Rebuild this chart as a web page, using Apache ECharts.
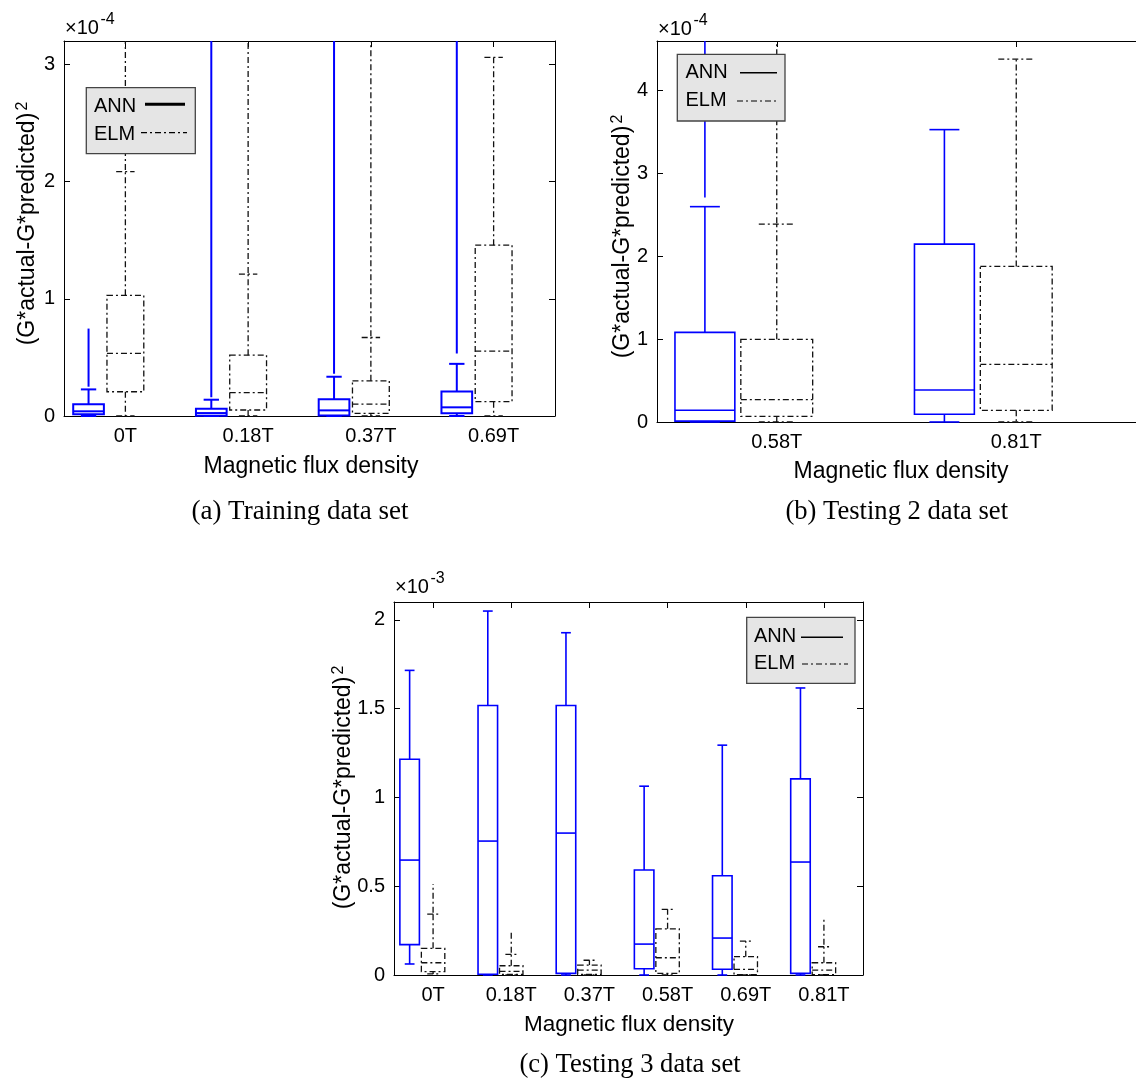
<!DOCTYPE html>
<html><head><meta charset="utf-8">
<script src="https://cdn.jsdelivr.net/npm/echarts@6/dist/echarts.min.js"></script>
<style>html,body{margin:0;padding:0;background:#fff}#c{width:1136px;height:1078px}</style>
</head><body><div id="c"></div>
<script>
// ---- DATA (values in units of the axis exponent) ----
// each row: [lowerWhisker, q1, median, q3, upperWhisker, outlierRunStart, outlierRunEnd]
const catsA = ['0T', '0.18T', '0.37T', '0.69T'];
const annA = [
  [0, 0.015, 0.04, 0.10, 0.227, 0.25, 0.746],
  [0, 0.003, 0.025, 0.062, 0.139, 0.16, 3.2],
  [0, 0.005, 0.048, 0.142, 0.335, 0.36, 3.2],
  [0, 0.023, 0.074, 0.21, 0.445, 0.533, 3.2]
];
const elmA = [
  [0, 0.207, 0.534, 1.03, 2.085, 2.1, 3.2],
  [0, 0.051, 0.2, 0.519, 1.21, 1.22, 3.2],
  [0, 0.023, 0.102, 0.30, 0.67, 0.68, 3.2],
  [0, 0.122, 0.553, 1.458, 3.06, null, null]
];
const catsB = ['0.58T', '0.81T'];
const annB = [
  [0, 0.01, 0.141, 1.082, 2.60, 2.71, 4.6],
  [0, 0.093, 0.386, 2.148, 3.53, null, null]
];
const elmB = [
  [0, 0.069, 0.27, 0.998, 2.39, 2.40, 4.6],
  [0, 0.141, 0.696, 1.878, 4.38, null, null]
];
const catsC = ['0T', '0.18T', '0.37T', '0.58T', '0.69T', '0.81T'];
const annC = [
  [0.062, 0.171, 0.647, 1.215, 1.715, null, null],
  [0, 0.004, 0.754, 1.517, 2.049, null, null],
  [0, 0.009, 0.799, 1.517, 1.927, null, null],
  [0, 0.035, 0.174, 0.591, 1.063, null, null],
  [0, 0.032, 0.208, 0.559, 1.294, null, null],
  [0, 0.009, 0.636, 1.104, 1.616, null, null]
];
const elmC = [
  [0.006, 0.019, 0.069, 0.150, 0.343, 0.35, 0.512],
  [0, 0.004, 0.02, 0.052, 0.116, 0.125, 0.244],
  [0, 0.003, 0.028, 0.056, 0.083, null, null],
  [0, 0.009, 0.097, 0.26, 0.37, null, null],
  [0, 0.002, 0.032, 0.103, 0.191, null, null],
  [0, 0.002, 0.028, 0.069, 0.159, 0.17, 0.328]
];
const yTicksA = [0, 1, 2, 3];
const yTicksB = [0, 1, 2, 3, 4];
const yTicksC = [0, 0.5, 1, 1.5, 2];
const seriesNames = ['ANN', 'ELM'];
const xTitle = 'Magnetic flux density';
const yTitle = '(G*actual-G*predicted)';
const captions = ['(a) Training data set', '(b) Testing 2 data set', '(c) Testing 3 data set'];
const exps = ['-4', '-4', '-3'];

// ---- LAYOUT ----
const FONT = '"Liberation Sans", Arial, Helvetica, sans-serif';
const SERIF = '"Liberation Serif", "Times New Roman", serif';
const BLUE = '#0000ff';
const DARK = '#111';
const DASH = [6, 3, 2, 3];

const panels = [
  {grid: {left: 64, top: 41, width: 491, height: 375}, cats: catsA, ann: annA, elm: elmA, ymax: 3.2, yticks: yTicksA, annLw: 2, rightAxis: true},
  {grid: {left: 657, top: 41, width: 488, height: 381}, cats: catsB, ann: annB, elm: elmB, ymax: 4.6, yticks: yTicksB, annLw: 1.6, rightAxis: false},
  {grid: {left: 394, top: 602, width: 469, height: 373}, cats: catsC, ann: annC, elm: elmC, ymax: 2.1, yticks: yTicksC, annLw: 1.6, rightAxis: true}
];

function makeRender(offset, width, style, ymax) {
  return function (params, api) {
    const x = api.value(0) + offset;
    const v = i => api.value(i);
    const lo = v(1), q1 = v(2), med = v(3), q3 = v(4), hi = v(5), oLo = v(6), oHi = v(7);
    const half = api.size([width, 0])[0] / 2;
    const cap = half / 2;
    const cx = api.coord([x, 0])[0];
    const Y = val => api.coord([x, val])[1];
    const ch = [];
    const line = (x1, y1, x2, y2) => ch.push({type: 'line', shape: {x1, y1, x2, y2}, style: Object.assign({}, style)});
    ch.push({type: 'rect', shape: {x: cx - half, y: Y(q3), width: 2 * half, height: Y(q1) - Y(q3)}, style: Object.assign({}, style, {fill: 'none'})});
    line(cx - half, Y(med), cx + half, Y(med));
    line(cx, Y(q3), cx, Y(hi));
    line(cx - cap, Y(hi), cx + cap, Y(hi));
    line(cx, Y(q1), cx, Y(lo));
    line(cx - cap, Y(lo), cx + cap, Y(lo));
    if (oLo != null && !isNaN(oLo) && oHi != null && !isNaN(oHi)) {
      line(cx, Y(oLo), cx, Y(Math.min(oHi, ymax)));
    }
    return {type: 'group', children: ch};
  };
}

const grids = [], xAxes = [], yAxes = [], series = [];
const axisLine = {show: true, onZero: false, lineStyle: {color: '#000', width: 1}};
panels.forEach((p, i) => {
  const n = p.cats.length;
  const pos = p.cats.map((c, k) => k + 1);
  grids.push(Object.assign({show: false}, p.grid));
  xAxes.push({gridIndex: i, type: 'value', position: 'bottom', min: 0.5, max: n + 0.5,
    axisLine, axisTick: {show: false}, splitLine: {show: false},
    axisLabel: {customValues: pos, formatter: val => p.cats[Math.round(val) - 1] || '', fontSize: 20, color: '#000', fontFamily: FONT, margin: 10}});
  xAxes.push({gridIndex: i, type: 'value', position: 'top', min: 0.5, max: n + 0.5,
    axisLine, axisTick: {show: true, inside: true, length: 6, customValues: pos, lineStyle: {color: '#000'}},
    axisLabel: {show: false}, splitLine: {show: false}});
  yAxes.push({gridIndex: i, type: 'value', position: 'left', min: 0, max: p.ymax,
    axisLine, axisTick: {show: true, inside: true, length: 6, customValues: p.yticks, lineStyle: {color: '#000'}},
    axisLabel: {customValues: p.yticks, formatter: val => String(val), fontSize: 20, color: '#000', fontFamily: FONT, margin: 9},
    splitLine: {show: false}});
  yAxes.push({gridIndex: i, type: 'value', position: 'right', min: 0, max: p.ymax, show: p.rightAxis,
    axisLine, axisTick: {show: true, inside: true, length: 6, customValues: p.yticks, lineStyle: {color: '#000'}},
    axisLabel: {show: false}, splitLine: {show: false}});
  const dims = ['x', 'lo', 'q1', 'med', 'q3', 'hi', 'olo', 'ohi'];
  const mk = arr => arr.map((d, k) => [k + 1].concat(d.map(z => z == null ? '-' : z)));
  series.push({type: 'custom', name: seriesNames[0], xAxisIndex: 2 * i + 1, yAxisIndex: 2 * i, dimensions: dims,
    encode: {x: 0, y: [1, 2, 3, 4, 5]}, data: mk(p.ann), silent: true,
    renderItem: makeRender(-0.30, 0.25, {stroke: BLUE, lineWidth: p.annLw}, p.ymax)});
  series.push({type: 'custom', name: seriesNames[1], xAxisIndex: 2 * i + 1, yAxisIndex: 2 * i, dimensions: dims,
    encode: {x: 0, y: [1, 2, 3, 4, 5]}, data: mk(p.elm), silent: true,
    renderItem: makeRender(0, 0.30, {stroke: DARK, lineWidth: 1.3, lineDash: DASH}, p.ymax)});
});

function txt(x, y, text, size, opts) {
  return {type: 'text', x, y, z: 10, style: Object.assign({text, fontSize: size, fontFamily: FONT, fill: '#000', align: 'center', verticalAlign: 'middle'}, opts || {})};
}
function rotTxt(x, y, text, size) {
  return {type: 'text', x, y, rotation: Math.PI / 2, z: 10, style: {text, fontSize: size, fontFamily: FONT, fill: '#000', align: 'center', verticalAlign: 'middle'}};
}
function legend(x, y, w, h, annTxt, elmTxt, annLine, elmLine, annW) {
  return [
    {type: 'rect', z: 20, shape: {x, y, width: w, height: h}, style: {fill: '#e5e5e5', stroke: '#444', lineWidth: 1.3}},
    {type: 'text', z: 21, x: annTxt[0], y: annTxt[1], style: {text: seriesNames[0], fontSize: 20, fontFamily: FONT, fill: '#000', align: 'left', verticalAlign: 'middle'}},
    {type: 'text', z: 21, x: elmTxt[0], y: elmTxt[1], style: {text: seriesNames[1], fontSize: 20, fontFamily: FONT, fill: '#000', align: 'left', verticalAlign: 'middle'}},
    {type: 'line', z: 21, shape: {x1: annLine[0], y1: annLine[2], x2: annLine[1], y2: annLine[2]}, style: {stroke: '#000', lineWidth: annW}},
    {type: 'line', z: 21, shape: {x1: elmLine[0], y1: elmLine[2], x2: elmLine[1], y2: elmLine[2]}, style: {stroke: '#000', lineWidth: 1.2, lineDash: DASH}}
  ];
}
function sup2(x, y) {
  return {type: 'text', x, y, rotation: Math.PI / 2, z: 10, style: {text: '2', fontSize: 16, fontFamily: FONT, fill: '#000', align: 'center', verticalAlign: 'middle'}};
}

const graphic = [
  // exponent labels
  txt(65, 28.5, '×10', 20, {align: 'left'}), txt(100.5, 20, exps[0], 16, {align: 'left'}),
  txt(658, 29, '×10', 20, {align: 'left'}), txt(693.5, 20.5, exps[1], 16, {align: 'left'}),
  txt(395, 587, '×10', 20, {align: 'left'}), txt(430.5, 578.5, exps[2], 16, {align: 'left'}),
  // y titles
  rotTxt(28, 229, yTitle, 23), sup2(23, 106),
  rotTxt(623, 242, yTitle, 23), sup2(618, 119),
  rotTxt(344, 793, yTitle, 23), sup2(339, 670),
  // x titles
  txt(311, 467, xTitle, 23), txt(901, 472, xTitle, 23), txt(629, 1025, xTitle, 22.5),
  // captions
  txt(300, 512, captions[0], 27, {fontFamily: SERIF}),
  txt(896.7, 512, captions[1], 26.6, {fontFamily: SERIF}),
  txt(630, 1065, captions[2], 26.6, {fontFamily: SERIF})
].concat(
  legend(86.3, 87.7, 109, 66, [94, 106], [94, 134], [145, 185, 104.3], [141, 187, 132.7], 3),
  legend(677.3, 54.3, 107.7, 66.7, [685.5, 72.5], [685.5, 100.5], [740, 777, 72.7], [737, 777, 101], 1.5),
  legend(746.7, 617.3, 108.3, 66, [754, 636], [754, 663], [801, 843, 637.3], [802, 848, 664], 1.5)
);

const chart = echarts.init(document.getElementById('c'), null, {renderer: 'canvas'});
chart.setOption({
  backgroundColor: '#fff',
  animation: false,
  grid: grids,
  xAxis: xAxes,
  yAxis: yAxes,
  series,
  graphic
});
</script>
</body></html>
